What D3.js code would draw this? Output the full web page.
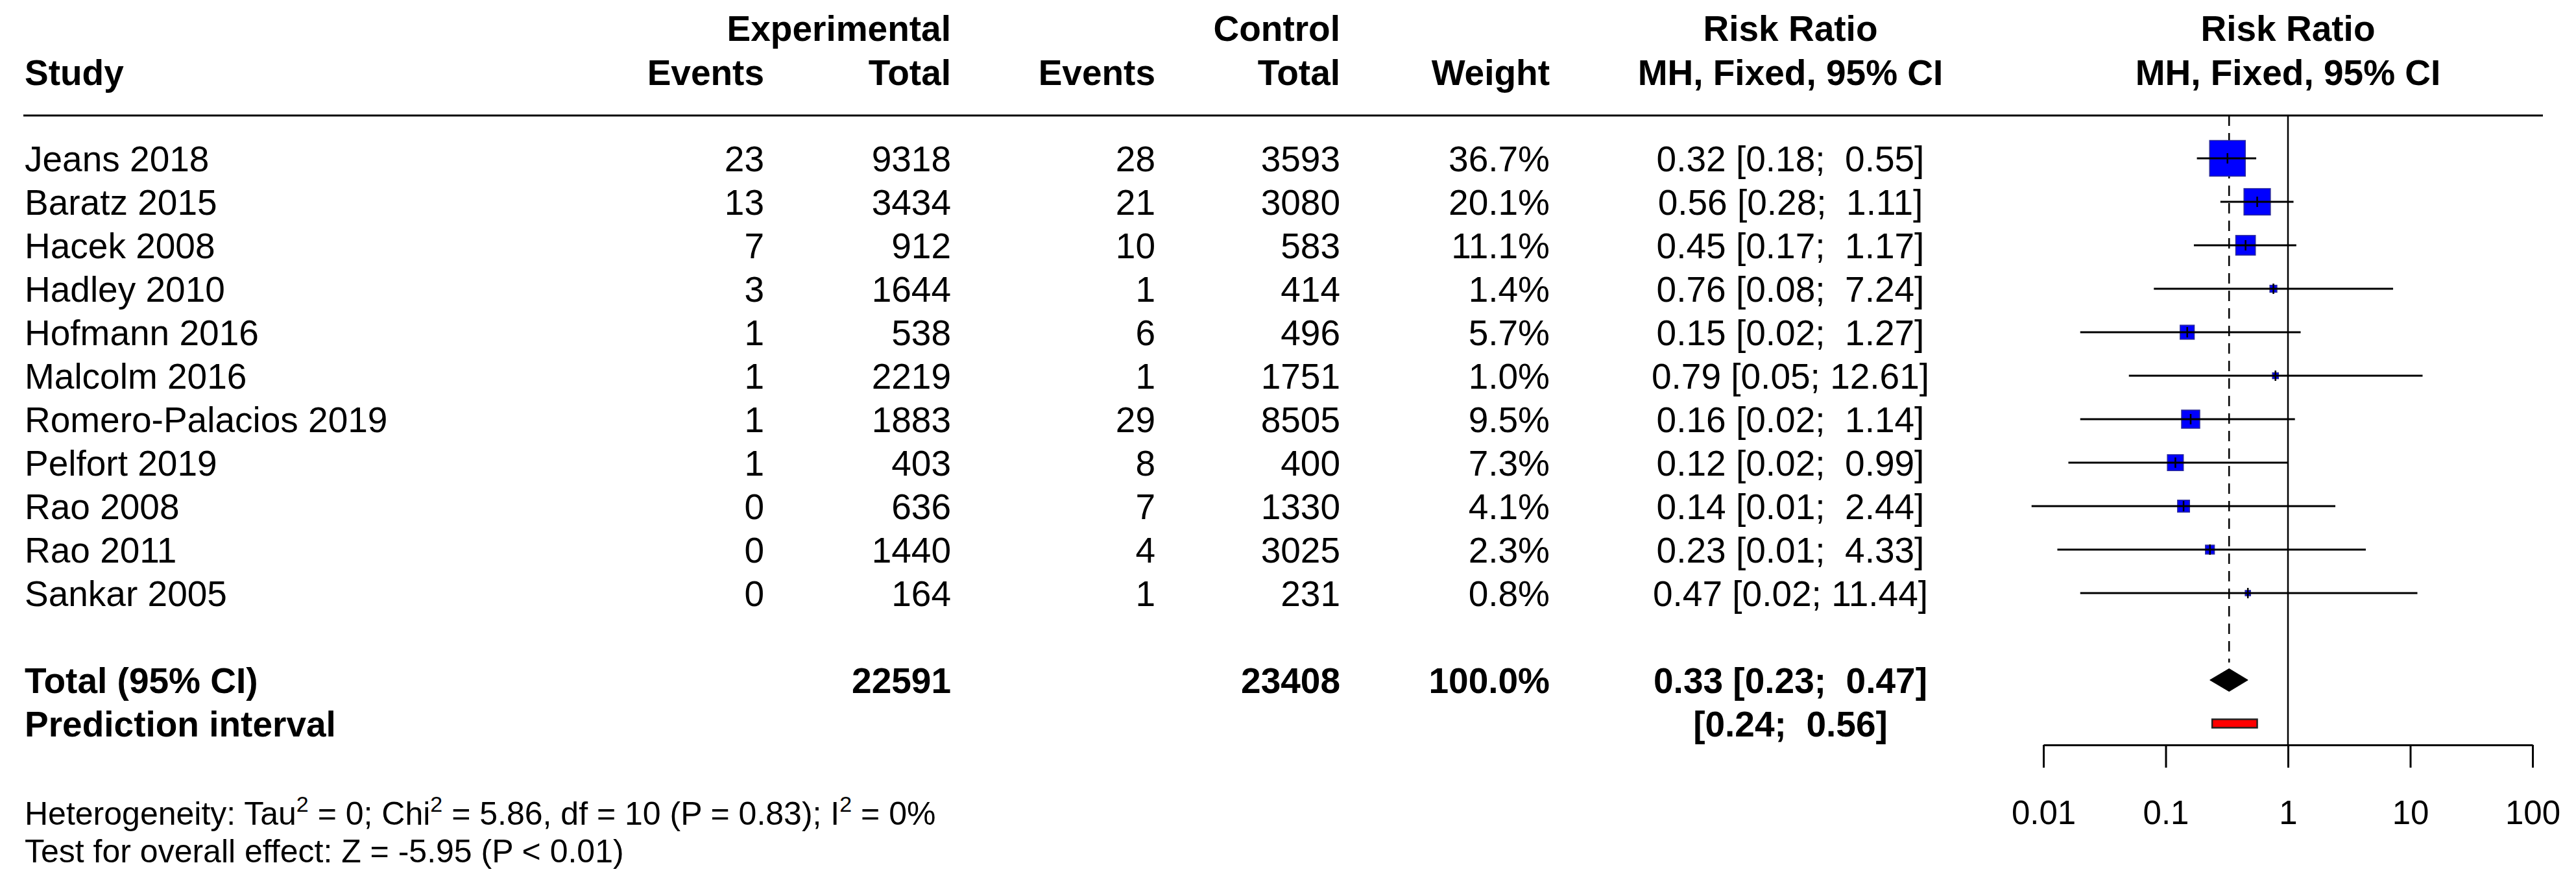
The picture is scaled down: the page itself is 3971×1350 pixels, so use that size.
<!DOCTYPE html>
<html>
<head>
<meta charset="utf-8">
<script src="https://cdn.jsdelivr.net/npm/d3@7"></script>
<style>
  html, body { margin: 0; padding: 0; background: #ffffff; }
  svg { display: block; }
  text { font-family: "Liberation Sans", Arial, Helvetica, sans-serif; fill: #000; }
</style>
</head>
<body>
<script>
// ---------------- data ----------------
const studies = ["Jeans 2018", "Baratz 2015", "Hacek 2008", "Hadley 2010", "Hofmann 2016",
  "Malcolm 2016", "Romero-Palacios 2019", "Pelfort 2019", "Rao 2008", "Rao 2011", "Sankar 2005"];
const eventsE = [23, 13, 7, 3, 1, 1, 1, 1, 0, 0, 0];
const totalE  = [9318, 3434, 912, 1644, 538, 2219, 1883, 403, 636, 1440, 164];
const eventsC = [28, 21, 10, 1, 6, 1, 29, 8, 7, 4, 1];
const totalC  = [3593, 3080, 583, 414, 496, 1751, 8505, 400, 1330, 3025, 231];
const weights = [36.7, 20.1, 11.1, 1.4, 5.7, 1.0, 9.5, 7.3, 4.1, 2.3, 0.8];
const rr      = [0.32, 0.56, 0.45, 0.76, 0.15, 0.79, 0.16, 0.12, 0.14, 0.23, 0.47];
const lower   = [0.18, 0.28, 0.17, 0.08, 0.02, 0.05, 0.02, 0.016, 0.008, 0.013, 0.02];
const upper   = [0.55, 1.11, 1.17, 7.24, 1.27, 12.61, 1.14, 0.99, 2.44, 4.33, 11.44];

const pooled = { label: "Total (95% CI)", totalE: 22591, totalC: 23408, weight: "100.0%", rr: 0.33, lower: 0.23, upper: 0.47 };
const predInt = { label: "Prediction interval", lower: 0.24, upper: 0.56 };

const tickValues = [0.01, 0.1, 1, 10, 100];
const tickLabels = ["0.01", "0.1", "1", "10", "100"];

const hetParts = [["Heterogeneity: Tau", false], ["2", true], [" = 0; Chi", false], ["2", true],
  [" = 5.86, df = 10 (P = 0.83); I", false], ["2", true], [" = 0%", false]];
const overallText = "Test for overall effect: Z = -5.95 (P < 0.01)";

// ---------------- layout ----------------
const W = 3971, H = 1350;
const FS = 55;
const svg = d3.select("body").append("svg").attr("width", W).attr("height", H);
svg.append("rect").attr("width", W).attr("height", H).attr("fill", "#fff");

const x = d3.scaleLog().domain([0.01, 100]).range([3150, 3904]);
const y = d3.scaleLinear().domain([0, 13]).range([244, 1115]);
const base = v => v + 19.7;

const col = { study: 38, evE: 1178, totE: 1466, evC: 1781, totC: 2066, wt: 2389, ci: 2760, plot: x(1) };

function txt(g, s, xx, yy, anchor, bold, size) {
  return g.append("text").attr("x", xx).attr("y", yy)
    .attr("text-anchor", anchor).attr("font-size", size || FS)
    .attr("font-weight", bold ? "bold" : "normal").text(s);
}
const fmt2 = v => v.toFixed(2);
const ciStr = (l, u) => "[" + fmt2(l) + "; " + (u < 10 ? "\u00a0" : "") + fmt2(u) + "]";

// ---------------- headers ----------------
const hg = svg.append("g");
txt(hg, "Experimental", col.totE, 63, "end", true);
txt(hg, "Control", col.totC, 63, "end", true);
txt(hg, "Risk Ratio", col.ci, 63, "middle", true);
txt(hg, "Risk Ratio", col.plot, 63, "middle", true);
txt(hg, "Study", col.study, 131, "start", true);
txt(hg, "Events", col.evE, 131, "end", true);
txt(hg, "Total", col.totE, 131, "end", true);
txt(hg, "Events", col.evC, 131, "end", true);
txt(hg, "Total", col.totC, 131, "end", true);
txt(hg, "Weight", col.wt, 131, "end", true);
txt(hg, "MH, Fixed, 95% CI", col.ci, 131, "middle", true);
txt(hg, "MH, Fixed, 95% CI", col.plot, 131, "middle", true);
hg.append("line").attr("x1", 36).attr("x2", 3920).attr("y1", 178).attr("y2", 178)
  .attr("stroke", "#000").attr("stroke-width", 3);

// ---------------- reference lines ----------------
const pg = svg.append("g");
pg.append("line").attr("x1", x(1)).attr("x2", x(1)).attr("y1", 178).attr("y2", 1148)
  .attr("stroke", "#000").attr("stroke-width", 2.5);
pg.append("line").attr("x1", x(pooled.rr)).attr("x2", x(pooled.rr)).attr("y1", 178).attr("y2", 1021)
  .attr("stroke", "#000").attr("stroke-width", 2.5).attr("stroke-dasharray", "16,11");

// ---------------- study rows ----------------
const tg = svg.append("g");
studies.forEach((s, i) => {
  const yy = base(y(i));
  txt(tg, s, col.study, yy, "start", false);
  txt(tg, String(eventsE[i]), col.evE, yy, "end", false);
  txt(tg, String(totalE[i]), col.totE, yy, "end", false);
  txt(tg, String(eventsC[i]), col.evC, yy, "end", false);
  txt(tg, String(totalC[i]), col.totC, yy, "end", false);
  txt(tg, weights[i].toFixed(1) + "%", col.wt, yy, "end", false);
  tg.append("text").attr("x", col.ci).attr("y", yy).attr("text-anchor", "middle")
    .attr("font-size", FS)
    .text(fmt2(rr[i]) + " " + ciStr(lower[i], upper[i]));
});

const side = w => 9.08 * Math.sqrt(w);
const mg = svg.append("g");
studies.forEach((s, i) => {
  const cy = y(i), cx = x(rr[i]), sz = side(weights[i]);
  mg.append("rect").attr("x", cx - sz / 2).attr("y", cy - sz / 2).attr("width", sz).attr("height", sz)
    .attr("fill", "#0000ff").attr("stroke", "#2a2a9a").attr("stroke-width", 1.5);
  mg.append("line").attr("x1", x(lower[i])).attr("x2", x(upper[i])).attr("y1", cy).attr("y2", cy)
    .attr("stroke", "#000").attr("stroke-width", 3);
  mg.append("line").attr("x1", cx).attr("x2", cx).attr("y1", cy - 8).attr("y2", cy + 8)
    .attr("stroke", "#000").attr("stroke-width", 2.5);
});

// ---------------- pooled + prediction ----------------
const yT = y(12), yP = y(13);
txt(tg, pooled.label, col.study, base(yT), "start", true);
txt(tg, String(pooled.totalE), col.totE, base(yT), "end", true);
txt(tg, String(pooled.totalC), col.totC, base(yT), "end", true);
txt(tg, pooled.weight, col.wt, base(yT), "end", true);
tg.append("text").attr("x", col.ci).attr("y", base(yT)).attr("text-anchor", "middle")
  .attr("font-size", FS).attr("font-weight", "bold")
  .text(fmt2(pooled.rr) + " " + ciStr(pooled.lower, pooled.upper));
txt(tg, predInt.label, col.study, base(yP), "start", true);
tg.append("text").attr("x", col.ci).attr("y", base(yP)).attr("text-anchor", "middle")
  .attr("font-size", FS).attr("font-weight", "bold")
  .text(ciStr(predInt.lower, predInt.upper));

const dh = 17.5;
mg.append("path")
  .attr("d", `M${x(pooled.lower)},${yT} L${x(pooled.rr)},${yT - dh} L${x(pooled.upper)},${yT} L${x(pooled.rr)},${yT + dh} Z`)
  .attr("fill", "#000").attr("stroke", "#000").attr("stroke-width", 1);
mg.append("rect").attr("x", x(predInt.lower)).attr("y", yP - 6.5)
  .attr("width", x(predInt.upper) - x(predInt.lower)).attr("height", 13)
  .attr("fill", "#ff0000").attr("stroke", "#222").attr("stroke-width", 2.5);

// ---------------- axis ----------------
const axis = d3.axisBottom(x).tickValues(tickValues)
  .tickFormat((d, i) => tickLabels[i]).tickSize(35).tickSizeOuter(0).tickPadding(51);
const ag = svg.append("g").attr("transform", "translate(0,1148)").call(axis);
ag.select(".domain").attr("stroke", "#000").attr("stroke-width", 3);
ag.selectAll(".tick line").attr("stroke", "#000").attr("stroke-width", 3);
ag.selectAll(".tick text").attr("font-size", 51).attr("fill", "#000")
  .attr("font-family", "'Liberation Sans', Arial, Helvetica, sans-serif");

// ---------------- footnotes ----------------
const het = svg.append("text").attr("x", 38).attr("y", 1271).attr("font-size", 50);
let prevSup = false;
hetParts.forEach(([s, sup]) => {
  const dy = sup ? -20 : (prevSup ? 20 : 0);
  het.append("tspan").attr("font-size", sup ? 34 : 50).attr("dy", dy).text(s);
  prevSup = sup;
});
svg.append("text").attr("x", 38).attr("y", 1329).attr("font-size", 50).text(overallText);
</script>
</body>
</html>
